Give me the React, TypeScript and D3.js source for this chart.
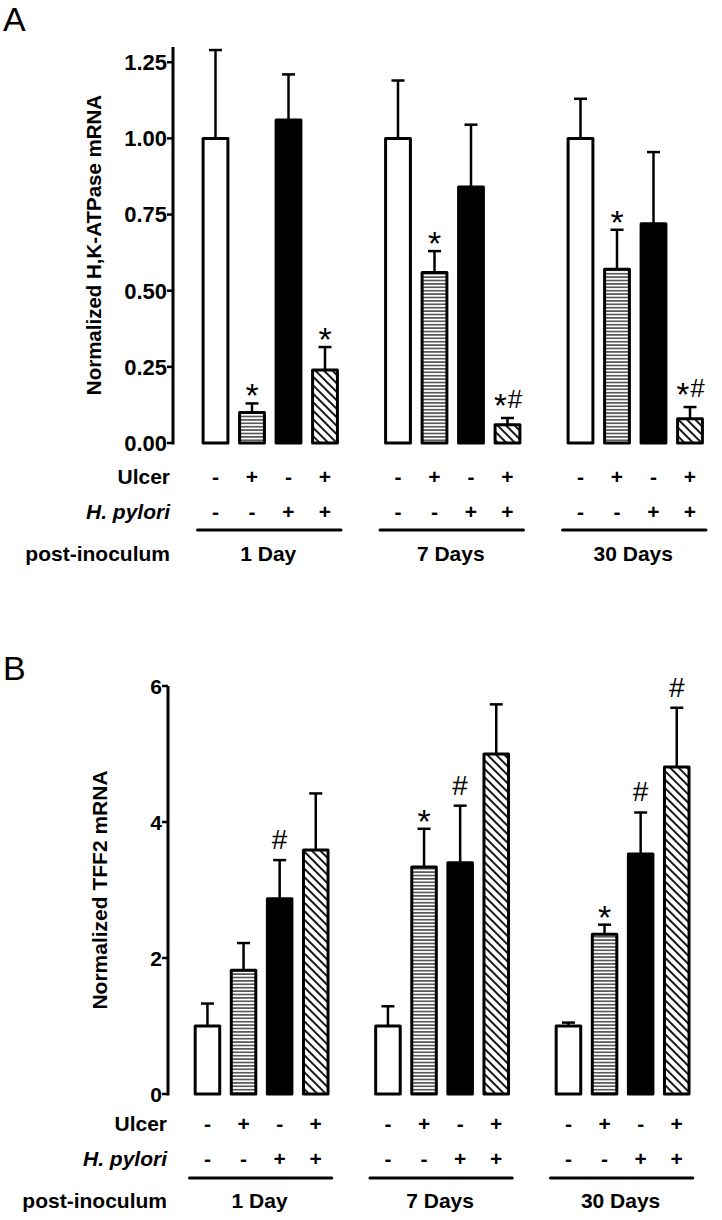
import React from "react";
import * as d3 from "d3";

const groups = ["1 Day", "7 Days", "30 Days"];
const ulcerSigns = ["-", "+", "-", "+"];
const pyloriSigns = ["-", "-", "+", "+"];
const fills = ["white", "hstripe", "black", "diag"];

const hkMean = [1.0, 0.1, 1.06, 0.24, 1.0, 0.56, 0.84, 0.06, 1.0, 0.57, 0.72, 0.08];
const hkErr = [0.29, 0.03, 0.15, 0.075, 0.19, 0.07, 0.205, 0.022, 0.13, 0.13, 0.235, 0.038];
const hkSig = ["", "*", "", "*", "", "*", "", "*#", "", "*", "", "*#"];
const hkTicks = [0, 0.25, 0.5, 0.75, 1.0, 1.25];

const tffMean = [1.0, 1.82, 2.87, 3.59, 1.0, 3.34, 3.4, 5.0, 1.0, 2.35, 3.53, 4.81];
const tffErr = [0.33, 0.4, 0.57, 0.83, 0.29, 0.56, 0.84, 0.73, 0.05, 0.14, 0.61, 0.87];
const tffSig = ["", "", "#", "", "", "*", "#", "", "", "*", "#", "#"];
const tffTicks = [0, 2, 4, 6];

const FONT = "'Liberation Sans', Arial, Helvetica, sans-serif";

type PanelProps = {
  letter: string;
  letterY: number;
  yLabel: string;
  yLabelX: number;
  yLabelSize: number;
  means: number[];
  errs: number[];
  sigs: string[];
  ticks: number[];
  tickSize: number;
  tickFmt: (v: number) => string;
  yDomain: [number, number];
  yRange: [number, number];
  axisX: number;
  bandStart: number;
  step: number;
  rowLabelX: number;
  ulcerY: number;
  pyloriY: number;
  lineY: number;
  groupY: number;
  hashSize: number;
};

function Sig({ s, c, cap, hashSize }: { s: string; c: number; cap: number; hashSize: number }) {
  if (s === "*") {
    return (
      <text x={c} y={cap + 4} textAnchor="middle" fontFamily={FONT} fontSize={34}>
        *
      </text>
    );
  }
  if (s === "#") {
    return (
      <text x={c} y={cap - 11} textAnchor="middle" fontFamily={FONT} fontSize={hashSize}>
        #
      </text>
    );
  }
  return (
    <g>
      <text x={c - 7} y={cap - 1} textAnchor="middle" fontFamily={FONT} fontSize={33}>
        *
      </text>
      <text x={c + 7.5} y={cap - 10} textAnchor="middle" fontFamily={FONT} fontSize={26}>
        #
      </text>
    </g>
  );
}

function Panel(p: PanelProps) {
  const y = d3.scaleLinear().domain(p.yDomain).range(p.yRange);
  const slots: string[] = [];
  groups.forEach((g, gi) => {
    ulcerSigns.forEach((_, bi) => slots.push(`g${gi}b${bi}`));
    if (gi < groups.length - 1) slots.push(`gap${gi}`);
  });
  const x = d3
    .scaleBand<string>()
    .domain(slots)
    .range([p.bandStart, p.bandStart + p.step * slots.length])
    .paddingInner(0.32)
    .paddingOuter(0.16);
  const bw = x.bandwidth();
  const cx = (gi: number, bi: number) => (x(`g${gi}b${bi}`) as number) + bw / 2;
  const y0 = y(0);
  const yLabelCenter = (y(p.yDomain[0]) + y(p.yDomain[1])) / 2;
  const TXT = 21;

  return (
    <g>
      <text x={3} y={p.letterY} fontFamily={FONT} fontSize={34} fill="#000">
        {p.letter}
      </text>
      <line x1={p.axisX} x2={p.axisX} y1={y(p.yDomain[0]) + 1.5} y2={y(p.yDomain[1])} stroke="#000" strokeWidth={3} />
      {p.ticks.map((t) => (
        <g key={t}>
          <line x1={p.axisX - 6} x2={p.axisX} y1={y(t)} y2={y(t)} stroke="#000" strokeWidth={2.5} />
          <text
            x={p.axisX - 6}
            y={y(t) + p.tickSize * 0.36}
            textAnchor="end"
            fontFamily={FONT}
            fontWeight="bold"
            fontSize={p.tickSize}
          >
            {p.tickFmt(t)}
          </text>
        </g>
      ))}
      <text
        transform={`translate(${p.yLabelX},${yLabelCenter}) rotate(-90)`}
        textAnchor="middle"
        fontFamily={FONT}
        fontWeight="bold"
        fontSize={p.yLabelSize}
      >
        {p.yLabel}
      </text>
      {groups.map((g, gi) =>
        fills.map((f, bi) => {
          const i = gi * 4 + bi;
          const c = cx(gi, bi);
          const top = y(p.means[i]);
          const errTop = y(p.means[i] + p.errs[i]);
          const fill =
            f === "white" ? "#fff" : f === "black" ? "#000" : f === "hstripe" ? "url(#hstripe)" : "url(#diag)";
          return (
            <g key={`${gi}-${bi}`}>
              <line x1={c} x2={c} y1={top} y2={errTop} stroke="#000" strokeWidth={2.5} />
              <line x1={c - 6.5} x2={c + 6.5} y1={errTop} y2={errTop} stroke="#000" strokeWidth={2.5} />
              <rect
                x={c - bw / 2}
                y={top}
                width={bw}
                height={y0 - top}
                fill={fill}
                stroke="#000"
                strokeWidth={3}
                strokeLinejoin="round"
              />
              {p.sigs[i] ? <Sig s={p.sigs[i]} c={c} cap={errTop} hashSize={p.hashSize} /> : null}
            </g>
          );
        })
      )}
      <text x={p.rowLabelX} y={p.ulcerY} textAnchor="end" fontFamily={FONT} fontWeight="bold" fontSize={TXT}>
        Ulcer
      </text>
      <text
        x={p.rowLabelX}
        y={p.pyloriY}
        textAnchor="end"
        fontFamily={FONT}
        fontWeight="bold"
        fontStyle="italic"
        fontSize={TXT}
      >
        H. pylori
      </text>
      <text x={p.rowLabelX} y={p.groupY} textAnchor="end" fontFamily={FONT} fontWeight="bold" fontSize={TXT}>
        post-inoculum
      </text>
      {groups.map((g, gi) => {
        const first = cx(gi, 0);
        const last = cx(gi, 3);
        return (
          <g key={g}>
            {ulcerSigns.map((s, bi) => (
              <text
                key={`u${bi}`}
                x={cx(gi, bi)}
                y={p.ulcerY}
                textAnchor="middle"
                fontFamily={FONT}
                fontWeight="bold"
                fontSize={TXT}
              >
                {s}
              </text>
            ))}
            {pyloriSigns.map((s, bi) => (
              <text
                key={`h${bi}`}
                x={cx(gi, bi)}
                y={p.pyloriY}
                textAnchor="middle"
                fontFamily={FONT}
                fontWeight="bold"
                fontSize={TXT}
              >
                {s}
              </text>
            ))}
            <line
              x1={first - 18}
              x2={last + 16}
              y1={p.lineY}
              y2={p.lineY}
              stroke="#000"
              strokeWidth={3}
              strokeLinecap="round"
            />
            <text
              x={(first + last) / 2 - 2}
              y={p.groupY}
              textAnchor="middle"
              fontFamily={FONT}
              fontWeight="bold"
              fontSize={TXT}
            >
              {g}
            </text>
          </g>
        );
      })}
    </g>
  );
}

export default function App() {
  return (
    <svg
      width={722}
      height={1220}
      viewBox="0 0 722 1220"
      style={{ position: "absolute", left: 0, top: 0, background: "#fff" }}
    >
      <defs>
        <pattern id="hstripe" patternUnits="userSpaceOnUse" width={8} height={3.4}>
          <rect width={8} height={3.4} fill="#fff" />
          <line x1={0} x2={8} y1={1.7} y2={1.7} stroke="#000" strokeWidth={1.1} />
        </pattern>
        <pattern id="diag" patternUnits="userSpaceOnUse" width={6} height={10} patternTransform="rotate(-45)">
          <rect width={6} height={10} fill="#fff" />
          <line x1={3} x2={3} y1={0} y2={10} stroke="#000" strokeWidth={1.8} />
        </pattern>
      </defs>
      <rect width={722} height={1220} fill="#fff" />
      <Panel
        letter="A"
        letterY={31}
        yLabel="Normalized H,K-ATPase mRNA"
        yLabelX={101}
        yLabelSize={20.5}
        means={hkMean}
        errs={hkErr}
        sigs={hkSig}
        ticks={hkTicks}
        tickSize={22}
        tickFmt={(v) => d3.format(".2f")(v)}
        yDomain={[0, 1.3]}
        yRange={[443, 47]}
        axisX={173}
        bandStart={197.25}
        step={36.5}
        rowLabelX={170}
        ulcerY={484}
        pyloriY={519}
        lineY={530}
        groupY={561}
        hashSize={22}
      />
      <Panel
        letter="B"
        letterY={680}
        yLabel="Normalized TFF2 mRNA"
        yLabelX={107}
        yLabelSize={21}
        means={tffMean}
        errs={tffErr}
        sigs={tffSig}
        ticks={tffTicks}
        tickSize={21}
        tickFmt={(v) => d3.format("d")(v)}
        yDomain={[0, 6]}
        yRange={[1094, 686]}
        axisX={168}
        bandStart={189.4}
        step={36.1}
        rowLabelX={167}
        ulcerY={1131}
        pyloriY={1166}
        lineY={1178}
        groupY={1208}
        hashSize={28}
      />
    </svg>
  );
}
